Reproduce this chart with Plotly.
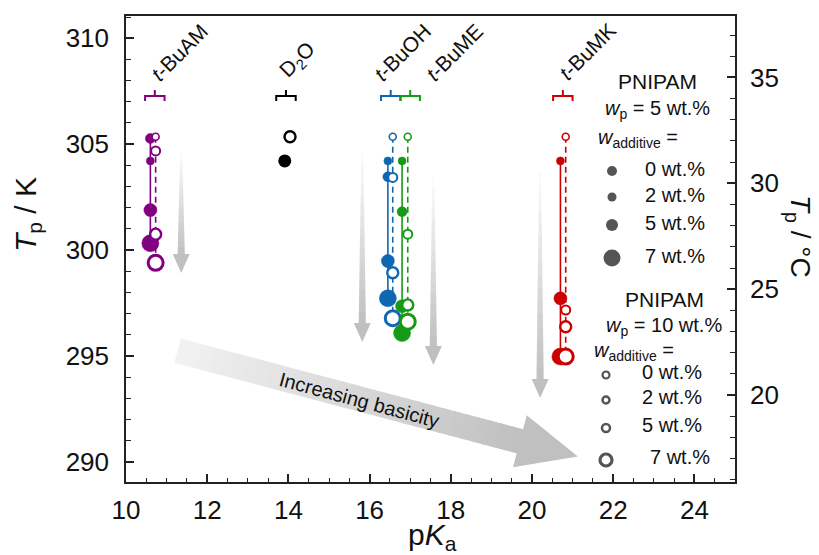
import plotly.graph_objects as go

# ---------------- data ----------------
wt_additive = [0, 2, 5, 7]                      # wt.% additive (marker size classes)

additive_names = ["<i>t</i>-BuAM", "<i>t</i>-BuOH", "<i>t</i>-BuME", "<i>t</i>-BuMK"]
pka_additive = [10.71, 16.52, 17.00, 20.76]     # pKa of additive (bracket centre)
pka_5wt = [10.60, 16.45, 16.80, 20.70]          # plotted pKa, PNIPAM 5 wt.%
pka_10wt = [10.73, 16.57, 16.94, 20.83]         # plotted pKa, PNIPAM 10 wt.%

tp_5wt_tbuam = [304.21, 305.27, 301.89, 300.32]
tp_10wt_tbuam = [305.35, 304.68, 300.75, 299.40]
tp_5wt_tbuoh = [304.21, 303.46, 299.48, 297.72]
tp_10wt_tbuoh = [305.35, 303.43, 298.93, 296.78]
tp_5wt_tbume = [304.21, 301.81, 297.35, 296.08]
tp_10wt_tbume = [305.35, 300.75, 297.41, 296.62]
tp_5wt_tbumk = [304.21, None, 297.72, 294.97]
tp_10wt_tbumk = [305.35, 297.17, 296.38, 294.97]

pka_d2o = 13.94
pka_d2o_5wt = 13.91
pka_d2o_10wt = 14.04
tp_d2o_5wt = [304.21]
tp_d2o_10wt = [305.35]

x_ticks = [10, 12, 14, 16, 18, 20, 22, 24]
y_ticks_K = [290, 295, 300, 305, 310]
y_ticks_C = [20, 25, 30, 35]

# ---------------- layout geometry ----------------
W, H = 819, 555
L, R, TOP, BOT = 126, 735, 16, 482
XR = (10, 25)
YR = (289.05, 311.05)
FONT = "Liberation Sans, Arial, sans-serif"

colors = ["#800080", "#0f67b1", "#149a14", "#cc0000"]
black = "#000000"
fill_sizes = [8, 10, 13, 17]
open_sizes = [7, 9, 11, 15]
open_lw = [1.6, 2.0, 2.4, 3.0]


def d2p(x, y):
    px = L + (x - XR[0]) / (XR[1] - XR[0]) * (R - L)
    py = BOT - (y - YR[0]) / (YR[1] - YR[0]) * (BOT - TOP)
    return px, py


def p2d(px, py):
    x = XR[0] + (px - L) / (R - L) * (XR[1] - XR[0])
    y = YR[0] + (BOT - py) / (BOT - TOP) * (YR[1] - YR[0])
    return x, y


def pp(px, py):  # pixel -> paper
    return (px - L) / (R - L), (BOT - py) / (BOT - TOP)


def path(points_px):
    s = ""
    for i, (px, py) in enumerate(points_px):
        x, y = p2d(px, py)
        s += ("M " if i == 0 else " L ") + f"{x:.5f},{y:.5f}"
    return s + " Z"


def grey(v):
    v = int(round(v))
    return f"rgb({v},{v},{v})"


fig = go.Figure()
shapes = []
annotations = []

# ---------------- decorative arrows ----------------
v_arrows = [  # (pKa, T top, T tip)
    (11.36, 304.6, 298.92),
    (15.82, 304.6, 295.66),
    (17.57, 303.4, 294.57),
    (20.20, 303.7, 293.01),
]
for xa, yt, yb in v_arrows:
    X, Y0 = d2p(xa, yt)
    _, Y1 = d2p(xa, yb)
    hl, hhw = 19, 8.5
    Yh = Y1 - hl
    N = 16
    for i in range(N):
        ya = Y0 + (Yh - Y0) * i / N
        yb2 = Y0 + (Yh - Y0) * (i + 1) / N + 0.6
        wa = 1 + 2.6 * i / N
        wb = 1 + 2.6 * (i + 1) / N
        c = 252 - (252 - 192) * (i + 0.5) / N
        shapes.append(dict(type="path", xref="x", yref="y", layer="below",
                           path=path([(X - wa, ya), (X + wa, ya), (X + wb, yb2), (X - wb, yb2)]),
                           fillcolor=grey(c), line=dict(width=0)))
    shapes.append(dict(type="path", xref="x", yref="y", layer="below",
                       path=path([(X - hhw, Yh), (X + hhw, Yh), (X, Y1)]),
                       fillcolor=grey(192), line=dict(width=0)))

# big diagonal arrow
d_start = (11.27, 295.25)
d_tip = (21.13, 290.25)
Sx, Sy = d2p(*d_start)
Ex, Ey = d2p(*d_tip)
lx, ly = Ex - Sx, Ey - Sy
ln = (lx ** 2 + ly ** 2) ** 0.5
ux, uy = lx / ln, ly / ln
nx, ny = -uy, ux
hl, hhw, shw = 60, 27, 12.5
Hx, Hy = Ex - ux * hl, Ey - uy * hl
N = 30
for i in range(N):
    t0, t1 = i / N, (i + 1) / N + 0.004
    ax, ay = Sx + (Hx - Sx) * t0, Sy + (Hy - Sy) * t0
    bx, by = Sx + (Hx - Sx) * t1, Sy + (Hy - Sy) * t1
    c = 242 - (242 - 192) * (i + 0.5) / N
    shapes.append(dict(type="path", xref="x", yref="y", layer="below",
                       path=path([(ax + nx * shw, ay + ny * shw), (bx + nx * shw, by + ny * shw),
                                  (bx - nx * shw, by - ny * shw), (ax - nx * shw, ay - ny * shw)]),
                       fillcolor=grey(c), line=dict(width=0)))
shapes.append(dict(type="path", xref="x", yref="y", layer="below",
                   path=path([(Hx + nx * hhw, Hy + ny * hhw), (Ex, Ey), (Hx - nx * hhw, Hy - ny * hhw)]),
                   fillcolor=grey(192), line=dict(width=0)))
tcx, tcy = p2d(359, 400)
annotations.append(dict(x=tcx, y=tcy, xref="x", yref="y", text="Increasing basicity",
                        showarrow=False, textangle=15, font=dict(size=20, color="#111", family=FONT)))

# ---------------- brackets + labels ----------------
T_br = 307.27
br_hw = 0.24


def bracket(xc, color):
    X, Y = d2p(xc, T_br)
    hw = br_hw / (XR[1] - XR[0]) * (R - L)
    pts = [(X - hw, Y + 5), (X - hw, Y), (X, Y), (X, Y - 6), (X, Y), (X + hw, Y), (X + hw, Y + 5)]
    s = ""
    for i, (px, py) in enumerate(pts):
        x, y = p2d(px, py)
        s += ("M " if i == 0 else " L ") + f"{x:.5f},{y:.5f}"
    shapes.append(dict(type="path", xref="x", yref="y", path=s, line=dict(color=color, width=2)))


label_centres_px = [(179, 52), (402, 52), (454, 52), (587, 51)]
for xc, col, name, (lx_, ly_) in zip(pka_additive, colors, additive_names, label_centres_px):
    bracket(xc, col)
    ax_, ay_ = p2d(lx_, ly_)
    annotations.append(dict(x=ax_, y=ay_, xref="x", yref="y", text=name, showarrow=False,
                            textangle=-45, font=dict(size=21, color="#111", family=FONT)))
bracket(pka_d2o, black)
ax_, ay_ = p2d(298, 60)
annotations.append(dict(x=ax_, y=ay_, xref="x", yref="y", text="D<sub>2</sub>O", showarrow=False,
                        textangle=-45, font=dict(size=21, color="#111", family=FONT)))

# ---------------- data traces ----------------
tp5 = [tp_5wt_tbuam, tp_5wt_tbuoh, tp_5wt_tbume, tp_5wt_tbumk]
tp10 = [tp_10wt_tbuam, tp_10wt_tbuoh, tp_10wt_tbume, tp_10wt_tbumk]

for i in range(4):
    col = colors[i]
    fig.add_trace(go.Scatter(x=[pka_5wt[i]] * 4, y=tp5[i], mode="lines", connectgaps=True,
                             line=dict(color=col, width=1.6), hoverinfo="skip"))
    fig.add_trace(go.Scatter(x=[pka_10wt[i]] * 4, y=tp10[i], mode="lines", connectgaps=True,
                             line=dict(color=col, width=1.6, dash="6px,4px"), hoverinfo="skip"))
    fig.add_trace(go.Scatter(x=[pka_5wt[i]] * 4, y=tp5[i], mode="markers",
                             marker=dict(color=col, size=fill_sizes, opacity=1,
                                         line=dict(color=col, width=0.5))))
    fig.add_trace(go.Scatter(x=[pka_10wt[i]] * 4, y=tp10[i], mode="markers",
                             marker=dict(color="white", size=open_sizes, opacity=1,
                                         line=dict(color=col, width=open_lw))))

fig.add_trace(go.Scatter(x=[pka_d2o_5wt], y=tp_d2o_5wt, mode="markers",
                         marker=dict(color=black, size=13, opacity=1)))
fig.add_trace(go.Scatter(x=[pka_d2o_10wt], y=tp_d2o_10wt, mode="markers",
                         marker=dict(color="white", size=11, opacity=1, line=dict(color=black, width=2.4))))

# dummy trace for Celsius axis
fig.add_trace(go.Scatter(x=[XR[0]], y=[YR[0] - 273.15], yaxis="y2", mode="markers",
                         marker=dict(opacity=0), hoverinfo="skip"))

# ---------------- legend block ----------------
def ann_px(px, py, text, xanchor="center", size=20):
    x, y = pp(px, py)
    annotations.append(dict(x=x, y=y, xref="paper", yref="paper", text=text, showarrow=False,
                            xanchor=xanchor, yanchor="middle",
                            font=dict(size=size, color="#111", family=FONT)))


def circle_px(px, py, d, filled, lw=0):
    x, y = pp(px, py)
    r = d / 2
    shapes.append(dict(type="circle", xref="paper", yref="paper", xsizemode="pixel", ysizemode="pixel",
                       xanchor=x, yanchor=y, x0=-r, x1=r, y0=-r, y1=r,
                       fillcolor="#555555" if filled else "rgba(0,0,0,0)",
                       line=dict(color="#555555", width=lw if not filled else 0)))


ann_px(657, 82, "PNIPAM", size=21)
ann_px(657, 110, "<i>w</i><sub>p</sub> = 5 wt.%")
ann_px(638, 138, "<i>w</i><sub>additive</sub> =")
leg1_y = [171, 197, 225, 258]
leg_fill_d = [10, 9, 12, 17]
for w, y, d in zip(wt_additive, leg1_y, leg_fill_d):
    circle_px(612, y, d, True)
    ann_px(643, y - 2, f"{w} wt.%", xanchor="left")

ann_px(664, 299, "PNIPAM", size=21)
ann_px(664, 326, "<i>w</i><sub>p</sub> = 10 wt.%")
ann_px(634, 351, "<i>w</i><sub>additive</sub> =")
leg2_y = [375, 400, 428, 460]
leg_open_d = [7, 7, 8, 12]
leg_open_lw = [2.2, 2.5, 2.5, 3.2]
for w, y, d, lw in zip(wt_additive, leg2_y, leg_open_d, leg_open_lw):
    circle_px(606, y, d, False, lw)
    ann_px(640 if w != 7 else 648, y - 3, f"{w} wt.%", xanchor="left")

# ---------------- axis titles ----------------
ann_px(28, 215, "<i>T</i><sub>p</sub> / K", size=30)
annotations[-1]["textangle"] = -90
ann_px(799, 236, "<i>T</i><sub>p</sub> / °C", size=28)
annotations[-1]["textangle"] = 90
ann_px(432, 536, "p<i>K</i><sub>a</sub>", size=30)

# ---------------- layout ----------------
axis_common = dict(showgrid=False, zeroline=False, showline=True, linecolor="#222", linewidth=1.5,
                   ticks="inside", tickcolor="#222", tickwidth=1.5, ticklen=8,
                   tickfont=dict(size=26, color="#111", family=FONT))

fig.update_layout(
    width=W, height=H,
    margin=dict(l=L, r=W - R, t=TOP, b=H - BOT),
    paper_bgcolor="white", plot_bgcolor="white",
    showlegend=False,
    xaxis=dict(range=list(XR), tickvals=x_ticks, mirror=True,
               minor=dict(dtick=0.5, tick0=10, ticks="inside", ticklen=4, tickcolor="#222", tickwidth=1.2),
               ticklabelstandoff=4, **axis_common),
    yaxis=dict(range=list(YR), tickvals=y_ticks_K,
               minor=dict(dtick=1, tick0=290, ticks="inside", ticklen=5, tickcolor="#222", tickwidth=1.2),
               ticklabelstandoff=10, **axis_common),
    yaxis2=dict(range=[YR[0] - 273.15, YR[1] - 273.15], tickvals=y_ticks_C, overlaying="y", side="right",
                minor=dict(dtick=1, tick0=20, ticks="inside", ticklen=5, tickcolor="#222", tickwidth=1.2),
                ticklabelstandoff=8, **axis_common),
    shapes=shapes,
    annotations=annotations,
)

fig.write_html("out.html")
